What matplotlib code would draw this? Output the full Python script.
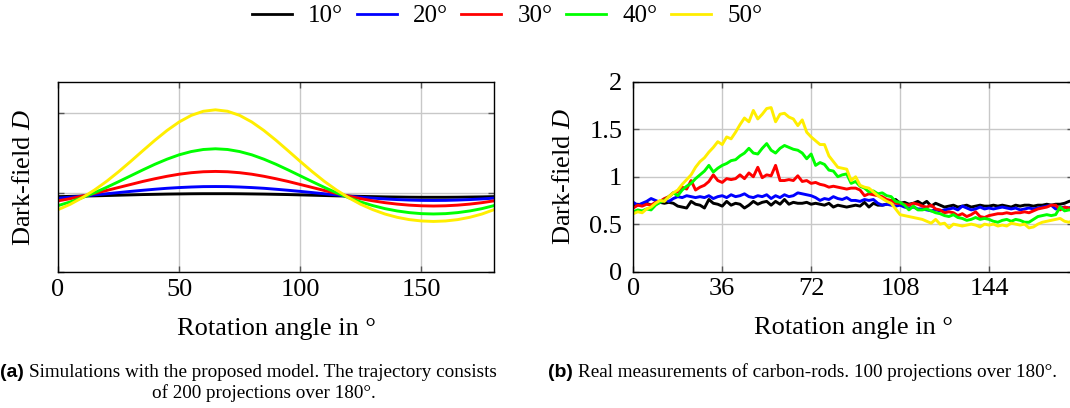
import numpy as np
import matplotlib
matplotlib.use("Agg")
import matplotlib.pyplot as plt
from matplotlib.lines import Line2D

plt.rcParams['font.family'] = ['Liberation Serif', 'DejaVu Serif']
plt.rcParams['mathtext.fontset'] = 'custom'
plt.rcParams['mathtext.rm'] = 'Liberation Serif'
plt.rcParams['mathtext.it'] = 'Liberation Serif:italic'

# ---------------- data ----------------
series_labels = ["10°", "20°", "30°", "40°", "50°"]
series_colors = ["#000000", "#0000ff", "#ff0000", "#00ff00", "#ffee00"]

# (a) simulation, angles 0..180 step 5
sim_angle = [0, 5, 10, 15, 20, 25, 30, 35, 40, 45, 50, 55, 60, 65, 70, 75, 80, 85, 90,
             95, 100, 105, 110, 115, 120, 125, 130, 135, 140, 145, 150, 155, 160, 165, 170, 175, 180]
sim_10 = [0.948, 0.951, 0.955, 0.958, 0.962, 0.966, 0.970, 0.974, 0.977, 0.980, 0.982, 0.984, 0.985, 0.985,
          0.985, 0.984, 0.982, 0.980, 0.977, 0.974, 0.970, 0.966, 0.962, 0.958, 0.955, 0.951, 0.948, 0.945,
          0.943, 0.941, 0.940, 0.940, 0.940, 0.941, 0.943, 0.945, 0.948]
sim_20 = [0.929, 0.941, 0.954, 0.969, 0.984, 0.999, 1.014, 1.028, 1.041, 1.053, 1.062, 1.069, 1.074, 1.075,
          1.074, 1.069, 1.062, 1.053, 1.041, 1.028, 1.014, 0.999, 0.984, 0.969, 0.954, 0.941, 0.929, 0.919,
          0.911, 0.905, 0.901, 0.900, 0.901, 0.905, 0.911, 0.919, 0.929]
sim_30 = [0.895, 0.922, 0.954, 0.988, 1.025, 1.063, 1.101, 1.139, 1.173, 1.204, 1.230, 1.249, 1.261, 1.265,
          1.261, 1.249, 1.230, 1.204, 1.173, 1.139, 1.101, 1.063, 1.025, 0.988, 0.954, 0.922, 0.895, 0.872,
          0.854, 0.841, 0.833, 0.830, 0.833, 0.841, 0.854, 0.872, 0.895]
sim_40 = [0.835, 0.881, 0.935, 0.996, 1.064, 1.136, 1.210, 1.284, 1.355, 1.419, 1.474, 1.515, 1.541, 1.550,
          1.541, 1.515, 1.474, 1.419, 1.355, 1.284, 1.210, 1.136, 1.064, 0.996, 0.935, 0.881, 0.835, 0.797,
          0.768, 0.747, 0.734, 0.730, 0.734, 0.747, 0.768, 0.797, 0.835]
sim_50 = [0.784, 0.851, 0.934, 1.030, 1.139, 1.261, 1.391, 1.525, 1.657, 1.780, 1.887, 1.970, 2.022, 2.040,
          2.022, 1.970, 1.887, 1.780, 1.657, 1.525, 1.391, 1.261, 1.139, 1.030, 0.934, 0.851, 0.784, 0.729,
          0.688, 0.659, 0.642, 0.636, 0.642, 0.659, 0.688, 0.729, 0.784]

# (b) measurements, 100 projections, step 1.8 deg
meas_step = 1.8
meas_count = 100
meas_10 = [0.69, 0.71, 0.70, 0.72, 0.70, 0.71, 0.73, 0.72, 0.73, 0.72,
           0.69, 0.68, 0.67, 0.74, 0.71, 0.70, 0.67, 0.76, 0.72, 0.71,
           0.69, 0.74, 0.70, 0.72, 0.71, 0.67, 0.70, 0.74, 0.71, 0.73,
           0.74, 0.70, 0.74, 0.71, 0.76, 0.71, 0.73, 0.72, 0.72, 0.73,
           0.71, 0.72, 0.71, 0.70, 0.72, 0.68, 0.70, 0.69, 0.68, 0.69,
           0.70, 0.69, 0.73, 0.68, 0.72, 0.70, 0.70, 0.71, 0.74, 0.76,
           0.72, 0.73, 0.71, 0.72, 0.74, 0.71, 0.74, 0.69, 0.72, 0.70,
           0.68, 0.69, 0.70, 0.68, 0.69, 0.70, 0.68, 0.69, 0.70, 0.69,
           0.69, 0.70, 0.69, 0.70, 0.69, 0.68, 0.70, 0.69, 0.70, 0.70,
           0.69, 0.70, 0.70, 0.71, 0.70, 0.71, 0.71, 0.72, 0.74, 0.75]
meas_20 = [0.73, 0.70, 0.72, 0.74, 0.77, 0.75, 0.73, 0.76, 0.74, 0.77,
           0.79, 0.78, 0.80, 0.79, 0.78, 0.79, 0.78, 0.80, 0.77, 0.79,
           0.80, 0.78, 0.81, 0.79, 0.80, 0.82, 0.79, 0.78, 0.80, 0.79,
           0.81, 0.77, 0.80, 0.78, 0.81, 0.79, 0.80, 0.83, 0.82, 0.81,
           0.80, 0.78, 0.75, 0.77, 0.76, 0.79, 0.77, 0.76, 0.78, 0.75,
           0.75, 0.74, 0.76, 0.75, 0.76, 0.72, 0.70, 0.71, 0.70, 0.69,
           0.70, 0.68, 0.67, 0.68, 0.66, 0.66, 0.65, 0.64, 0.65, 0.64,
           0.65, 0.66, 0.67, 0.65, 0.69, 0.67, 0.65, 0.66, 0.68, 0.66,
           0.67, 0.66, 0.67, 0.68, 0.67, 0.66, 0.67, 0.65, 0.66, 0.67,
           0.66, 0.67, 0.68, 0.69, 0.70, 0.66, 0.67, 0.68, 0.67, 0.69]
meas_30 = [0.67, 0.70, 0.69, 0.71, 0.70, 0.73, 0.74, 0.77, 0.79, 0.83,
           0.84, 0.89, 0.87, 0.96, 0.86, 0.89, 0.91, 0.95, 1.02, 0.96,
           0.94, 0.98, 0.97, 0.98, 1.02, 0.98, 1.04, 1.00, 1.10, 0.99,
           1.02, 1.01, 1.12, 0.96, 0.96, 0.97, 0.96, 1.01, 0.95, 0.96,
           0.93, 0.94, 0.92, 0.91, 0.89, 0.90, 0.89, 0.88, 0.87, 0.88,
           0.88, 0.86, 0.80, 0.82, 0.81, 0.80, 0.79, 0.76, 0.75, 0.72,
           0.72, 0.71, 0.70, 0.72, 0.71, 0.69, 0.68, 0.70, 0.66, 0.65,
           0.62, 0.63, 0.62, 0.59, 0.61, 0.58, 0.60, 0.63, 0.58, 0.57,
           0.59, 0.60, 0.61, 0.61, 0.62, 0.61, 0.62, 0.62, 0.63, 0.62,
           0.64, 0.66, 0.67, 0.68, 0.70, 0.70, 0.65, 0.68, 0.67, 0.66]
meas_40 = [0.63, 0.65, 0.64, 0.66, 0.65, 0.70, 0.73, 0.75, 0.79, 0.83,
           0.80, 0.86, 0.90, 0.93, 0.98, 1.02, 1.06, 1.12, 1.05, 1.09,
           1.12, 1.14, 1.17, 1.18, 1.22, 1.25, 1.30, 1.25, 1.24, 1.30,
           1.35, 1.28, 1.25, 1.30, 1.33, 1.31, 1.29, 1.28, 1.25, 1.19,
           1.24, 1.12, 1.15, 1.13, 1.07, 1.06, 1.00, 1.02, 1.03, 0.93,
           0.95, 0.90, 0.88, 0.84, 0.85, 0.82, 0.83, 0.80, 0.79, 0.74,
           0.73, 0.70, 0.65, 0.69, 0.65, 0.65, 0.66, 0.64, 0.62, 0.61,
           0.59, 0.58, 0.60, 0.57, 0.56, 0.54, 0.55, 0.57, 0.55, 0.56,
           0.55, 0.53, 0.52, 0.54, 0.55, 0.53, 0.55, 0.54, 0.52, 0.52,
           0.55, 0.58, 0.59, 0.60, 0.59, 0.60, 0.68, 0.64, 0.65, 0.65]
meas_50 = [0.61, 0.63, 0.62, 0.66, 0.68, 0.72, 0.75, 0.74, 0.79, 0.83,
           0.86, 0.92, 0.97, 1.02, 1.10, 1.16, 1.20, 1.26, 1.31, 1.37,
           1.34, 1.42, 1.40, 1.47, 1.55, 1.62, 1.58, 1.70, 1.61, 1.66,
           1.72, 1.73, 1.58, 1.66, 1.67, 1.63, 1.61, 1.54, 1.60, 1.47,
           1.42, 1.38, 1.34, 1.34, 1.22, 1.16, 1.10, 1.09, 1.08, 0.96,
           1.00, 0.91, 0.89, 0.88, 0.84, 0.80, 0.77, 0.74, 0.72, 0.66,
           0.60, 0.59, 0.58, 0.57, 0.56, 0.55, 0.53, 0.51, 0.55, 0.50,
           0.51, 0.46, 0.50, 0.49, 0.48, 0.49, 0.50, 0.49, 0.47, 0.50,
           0.49, 0.50, 0.48, 0.49, 0.48, 0.51, 0.50, 0.49, 0.50, 0.46,
           0.47, 0.50, 0.52, 0.53, 0.54, 0.55, 0.56, 0.53, 0.52, 0.54]

left_xticks = [0, 50, 100, 150]
right_xticks = [0, 36, 72, 108, 144]
right_yticks = [0, 0.5, 1, 1.5, 2]
right_yticklabels = ["0", "0.5", "1", "1.5", "2"]

# ---------------- figure ----------------
W, H = 1070, 408
fig = plt.figure(figsize=(W / 100, H / 100), dpi=100)

def frac(x0, y0, x1, y1):
    return [x0 / W, 1 - y1 / H, (x1 - x0) / W, (y1 - y0) / H]

FS = 19
LW = 2.1
grid_kw = dict(color="#c8c8c8", linewidth=1.0)

def style(ax):
    ax.grid(True, **grid_kw)
    ax.set_axisbelow(True)
    ax.tick_params(direction="in", length=4, width=1, color="#555555",
                   top=True, right=True, labelsize=FS)
    ax.tick_params(axis="x", pad=5)
    ax.tick_params(axis="y", pad=8)
    for s in ax.spines.values():
        s.set_linewidth(1.0)
        s.set_color("black")

# (a)
axa = fig.add_axes(frac(58, 82, 494, 272))
sims = [sim_10, sim_20, sim_30, sim_40, sim_50]
for vals, c in zip(sims, series_colors):
    axa.plot(sim_angle, vals, color=c, linewidth=LW)
axa.set_xlim(0, 180)
axa.set_ylim(0, 2.39)
axa.set_xticks(left_xticks)
axa.set_yticks([0, 1, 2])
axa.set_yticklabels([])
style(axa)
axa.set_xlabel("Rotation angle in °", fontsize=FS, labelpad=12)
axa.set_ylabel("Dark-field $D$", fontsize=FS, labelpad=8.5)

# (b)
axb = fig.add_axes(frac(633.3, 82, 633.3 + 178.2 * 2.47, 271.5))
meas_angle = [i * meas_step for i in range(meas_count)]
meas = [meas_10, meas_20, meas_30, meas_40, meas_50]
for vals, c in zip(meas, series_colors):
    axb.plot(meas_angle, vals, color=c, linewidth=LW)
axb.set_xlim(0, 178.2)
axb.set_ylim(0, 2)
axb.set_xticks(right_xticks)
axb.set_yticks(right_yticks)
axb.set_yticklabels(right_yticklabels)
style(axb)
axb.set_xlabel("Rotation angle in °", fontsize=FS, labelpad=12)
axb.set_ylabel("Dark-field $D$", fontsize=FS, labelpad=10)

# legend
LFS = 18
handles = [Line2D([], [], color=c, linewidth=2.0) for c in series_colors]
fig.legend(handles, series_labels, loc="center", bbox_to_anchor=(507 / W, 1 - 16 / H),
           ncol=5, frameon=False, fontsize=LFS, handlelength=1.6, handletextpad=0.64,
           columnspacing=0.55)

# captions
CF = 13.8
LF = 14
fig.text(0 / W, 1 - 377 / H, "(a)", fontsize=LF, family=["Liberation Sans"], weight="bold",
         va="baseline", ha="left")
fig.text(29 / W, 1 - 377 / H, "Simulations with the proposed model. The trajectory consists",
         fontsize=CF, va="baseline", ha="left")
fig.text(264 / W, 1 - 398 / H, "of 200 projections over 180°.", fontsize=CF, va="baseline", ha="center")
fig.text(548 / W, 1 - 377 / H, "(b)", fontsize=LF, family=["Liberation Sans"], weight="bold",
         va="baseline", ha="left")
fig.text(578 / W, 1 - 377 / H, "Real measurements of carbon-rods. 100 projections over 180°.",
         fontsize=CF, va="baseline", ha="left")

fig.savefig("out.png", dpi=100)
